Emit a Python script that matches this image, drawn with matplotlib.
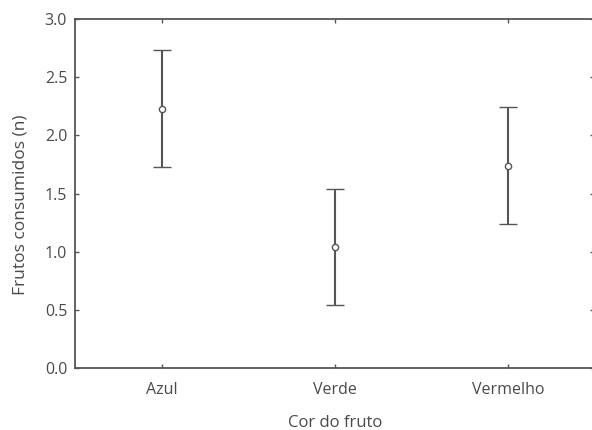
import matplotlib.pyplot as plt

plt.rcParams['font.family'] = ['Open Sans', 'DejaVu Sans']

# mean fruits eaten per colour, with the error interval
cores = ["Azul", "Verde", "Vermelho"]
medias = [2.23, 1.04, 1.74]
erros = [0.50, 0.50, 0.50]

cinza = "#555555"
texto = "#4a4a4a"

fig = plt.figure(figsize=(5.92, 4.30), dpi=100)
ax = fig.add_axes([0.1275, 0.1442, 0.8767, 0.8116])

x = list(range(len(cores)))
ax.errorbar(x, medias, yerr=erros, fmt='o', color=cinza, ecolor=cinza,
            elinewidth=1.5, capsize=6.5, capthick=1.5,
            markersize=4.5, markerfacecolor='white', markeredgecolor=cinza,
            markeredgewidth=1.0)

ax.set_xlim(-0.5, 2.5)
ax.set_ylim(0, 3.0)
ax.set_xticks(x)
ax.set_xticklabels(cores)
ax.set_yticks([0.0, 0.5, 1.0, 1.5, 2.0, 2.5, 3.0])
ax.set_yticklabels(["0.0", "0.5", "1.0", "1.5", "2.0", "2.5", "3.0"])

for s in ax.spines.values():
    s.set_color(cinza)
    s.set_linewidth(1.3)

ax.tick_params(direction='in', length=3, width=1, color=cinza,
               labelcolor=texto, labelsize=11.5, top=True, right=True)
ax.tick_params(axis='x', pad=10)
ax.tick_params(axis='y', pad=6)

ax.set_xlabel("Cor do fruto", fontsize=12, color=texto, labelpad=12)
ax.set_ylabel("Frutos consumidos (n)", fontsize=12.5, color=texto)
ax.yaxis.set_label_coords(-0.09, 0.467)

fig.savefig("out.png", dpi=100)
